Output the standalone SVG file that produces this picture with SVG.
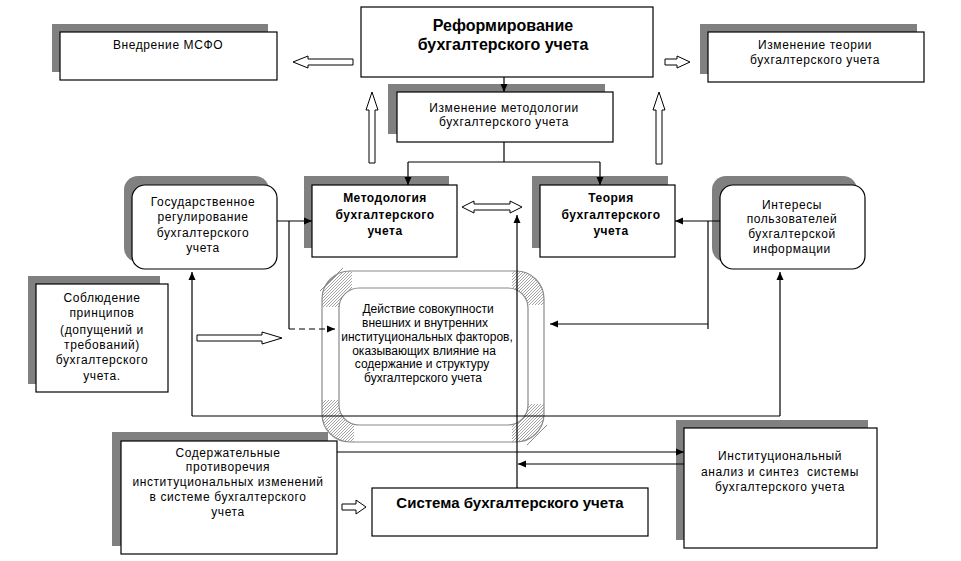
<svg xmlns="http://www.w3.org/2000/svg" width="961" height="561" viewBox="0 0 961 561">
<style>
text{font-family:"Liberation Sans",Arial,sans-serif;font-size:12px;fill:#000;text-anchor:middle}
.t{letter-spacing:0.6px}
.b{font-weight:bold;letter-spacing:0.5px}
.sh{fill:#808080}
.bx{fill:#fff;stroke:#000;stroke-width:1.2}
.ln{fill:none;stroke:#000;stroke-width:1.2}
.ha{fill:#fff;stroke:#000;stroke-width:1}
.g{fill:none;stroke:#8a8a8a;stroke-width:1.2}
</style>
<defs>
<marker id="ar" viewBox="0 0 8 8" refX="8" refY="4" markerWidth="8" markerHeight="8" markerUnits="userSpaceOnUse" orient="auto">
<path d="M0,0.5 L8,4 L0,7.5 Z" fill="#000"/>
</marker>
<pattern id="hatch" width="3" height="3" patternUnits="userSpaceOnUse">
<path d="M-1,1 L1,-1 M0,3 L3,0 M2,4 L4,2" stroke="#8a8a8a" stroke-width="0.8"/>
</pattern>
<clipPath id="corners">
<rect x="318" y="267" width="34" height="40"/>
<rect x="512" y="267" width="36" height="38"/>
<rect x="318" y="400" width="36" height="46"/>
<rect x="512" y="404" width="36" height="42"/>
</clipPath>
</defs>

<g id="reform">
<rect class="bx" x="361" y="7" width="292" height="70"/>
<text class="b" x="503" y="31" style="font-size:16px;letter-spacing:0">Реформирование</text>
<text class="b" x="503" y="50" style="font-size:16px;letter-spacing:0">бухгалтерского учета</text>
</g>

<g id="msfo">
<rect class="sh" x="52" y="24" width="216" height="48"/>
<rect class="bx" x="60" y="32" width="217" height="48"/>
<text class="t" x="168" y="49">Внедрение МСФО</text>
</g>

<g id="theory-change">
<rect class="sh" x="700" y="24" width="217" height="50"/>
<rect class="bx" x="708" y="32" width="216" height="50"/>
<text class="t" x="815" y="49">Изменение теории</text>
<text class="t" x="815" y="64">бухгалтерского учета</text>
</g>

<g id="method-change">
<rect class="sh" x="388" y="84" width="217" height="50"/>
<rect class="bx" x="397" y="92" width="216" height="50"/>
<text class="t" x="504" y="112">Изменение методологии</text>
<text class="t" x="504" y="126">бухгалтерского учета</text>
</g>

<g id="gosreg">
<rect class="sh" x="124" y="176" width="145" height="86" rx="14"/>
<rect class="bx" x="132" y="185" width="145" height="84" rx="13"/>
<text class="t" x="203" y="206">Государственное</text>
<text class="t" x="203" y="221">регулирование</text>
<text class="t" x="203" y="237">бухгалтерского</text>
<text class="t" x="203" y="252">учета</text>
</g>

<g id="methodology">
<rect class="sh" x="304" y="176" width="145" height="72"/>
<rect class="bx" x="312" y="185" width="145" height="72"/>
<text class="b" x="385" y="202">Методология</text>
<text class="b" x="385" y="219">бухгалтерского</text>
<text class="b" x="385" y="235">учета</text>
</g>

<g id="theory">
<rect class="sh" x="532" y="176" width="136" height="72"/>
<rect class="bx" x="540" y="185" width="135" height="72"/>
<text class="b" x="611" y="202">Теория</text>
<text class="b" x="611" y="219">бухгалтерского</text>
<text class="b" x="611" y="235">учета</text>
</g>

<g id="interests">
<rect class="sh" x="712" y="176" width="145" height="86" rx="14"/>
<rect class="bx" x="720" y="185" width="145" height="84" rx="13"/>
<text class="t" x="792" y="209">Интересы</text>
<text class="t" x="792" y="223">пользователей</text>
<text class="t" x="792" y="238">бухгалтерской</text>
<text class="t" x="792" y="253">информации</text>
</g>

<g id="principles">
<rect class="sh" x="28" y="276" width="132" height="108"/>
<rect class="bx" x="36" y="284" width="132" height="108"/>
<text class="t" x="102" y="302">Соблюдение</text>
<text class="t" x="102" y="317">принципов</text>
<text class="t" x="102" y="334">(допущений и</text>
<text class="t" x="102" y="349">требований)</text>
<text class="t" x="102" y="364">бухгалтерского</text>
<text class="t" x="102" y="380">учета.</text>
</g>

<g id="factors">
<path d="M350,271 H516 A28,28 0 0 1 544,299 V414 A28,28 0 0 1 516,442 H350 A28,28 0 0 1 322,414 V299 A28,28 0 0 1 350,271 Z M359,288 H508 A20,20 0 0 1 528,308 V405 A20,20 0 0 1 508,425 H359 A20,20 0 0 1 339,405 V308 A20,20 0 0 1 359,288 Z" fill="url(#hatch)" fill-rule="evenodd" clip-path="url(#corners)"/>
<rect class="g" x="322" y="271" width="222" height="171" rx="28"/>
<rect class="g" x="339" y="288" width="189" height="137" rx="20" style="fill:#fff"/>
<line x1="320" y1="291" x2="343" y2="268" stroke="#8a8a8a" stroke-width="1"/>
<line x1="527" y1="445" x2="547" y2="425" stroke="#8a8a8a" stroke-width="1"/>
<text x="428" y="313">Действие совокупности</text>
<text x="425" y="327">внешних и внутренних</text>
<text x="427" y="341">институциональных факторов,</text>
<text x="424" y="355">оказывающих влияние на</text>
<text x="422" y="368">содержание и структуру</text>
<text x="423" y="382">бухгалтерского учета</text>
</g>

<g id="contradictions">
<rect class="sh" x="112" y="432" width="216" height="114"/>
<rect class="bx" x="121" y="441" width="216" height="113"/>
<text class="t" x="228" y="457">Содержательные</text>
<text class="t" x="228" y="471">противоречия</text>
<text class="t" x="228" y="486">институциональных изменений</text>
<text class="t" x="228" y="501">в системе бухгалтерского</text>
<text class="t" x="228" y="516">учета</text>
</g>

<g id="system">
<rect class="bx" x="372" y="488" width="276" height="48"/>
<text class="b" x="510" y="508" style="font-size:15px;letter-spacing:0">Система бухгалтерского учета</text>
</g>

<g id="institutional">
<rect class="sh" x="676" y="420" width="192" height="120"/>
<rect class="bx" x="684" y="428" width="193" height="120"/>
<text class="t" x="780" y="460">Институциональный</text>
<text class="t" x="780" y="476" xml:space="preserve">анализ и синтез  системы</text>
<text class="t" x="780" y="491">бухгалтерского учета</text>
</g>

<g id="connectors">
<line class="ln" x1="504" y1="77" x2="504" y2="92" marker-end="url(#ar)"/>
<polyline class="ln" points="504,142 504,162"/>
<polyline class="ln" points="408,162 600,162"/>
<line class="ln" x1="408" y1="162" x2="408" y2="185" marker-end="url(#ar)"/>
<line class="ln" x1="600" y1="162" x2="600" y2="185" marker-end="url(#ar)"/>
<line class="ln" x1="277" y1="221" x2="312" y2="221" marker-end="url(#ar)"/>
<polyline class="ln" points="289,221 289,329"/>
<line class="ln" x1="289" y1="329" x2="335" y2="329" stroke-dasharray="6,4" marker-end="url(#ar)"/>
<line class="ln" x1="720" y1="221" x2="675" y2="221" marker-end="url(#ar)"/>
<polyline class="ln" points="708,221 708,329"/>
<line class="ln" x1="708" y1="324" x2="550" y2="324" marker-end="url(#ar)"/>
<polyline class="ln" points="192,416 780,416"/>
<line class="ln" x1="192" y1="416" x2="192" y2="272" marker-end="url(#ar)"/>
<line class="ln" x1="780" y1="416" x2="780" y2="272" marker-end="url(#ar)"/>
<line class="ln" x1="517" y1="488" x2="517" y2="215" marker-end="url(#ar)"/>
<line class="ln" x1="337" y1="452" x2="684" y2="452" marker-end="url(#ar)"/>
<line class="ln" x1="684" y1="464" x2="518" y2="464" marker-end="url(#ar)"/>
<polygon class="ha" points="293,62 308,56 308,59 353,59 353,65 308,65 308,68"/>
<polygon class="ha" points="665,59 677,59 677,56 690,62 677,68 677,65 665,65"/>
<polygon class="ha" points="372,92 378,110 375,110 375,163 369,163 369,110 366,110"/>
<polygon class="ha" points="659,92 665,110 662,110 662,164 656,164 656,110 653,110"/>
<polygon class="ha" points="462,207 474,201 474,204 510,204 510,201 522,207 510,213 510,210 474,210 474,213"/>
<polygon class="ha" points="197,335 262,335 262,332 282,338 262,344 262,341 197,341"/>
<polygon class="ha" points="342,504 356,504 356,500 366,507 356,514 356,510 342,510"/>
</g>
</svg>
